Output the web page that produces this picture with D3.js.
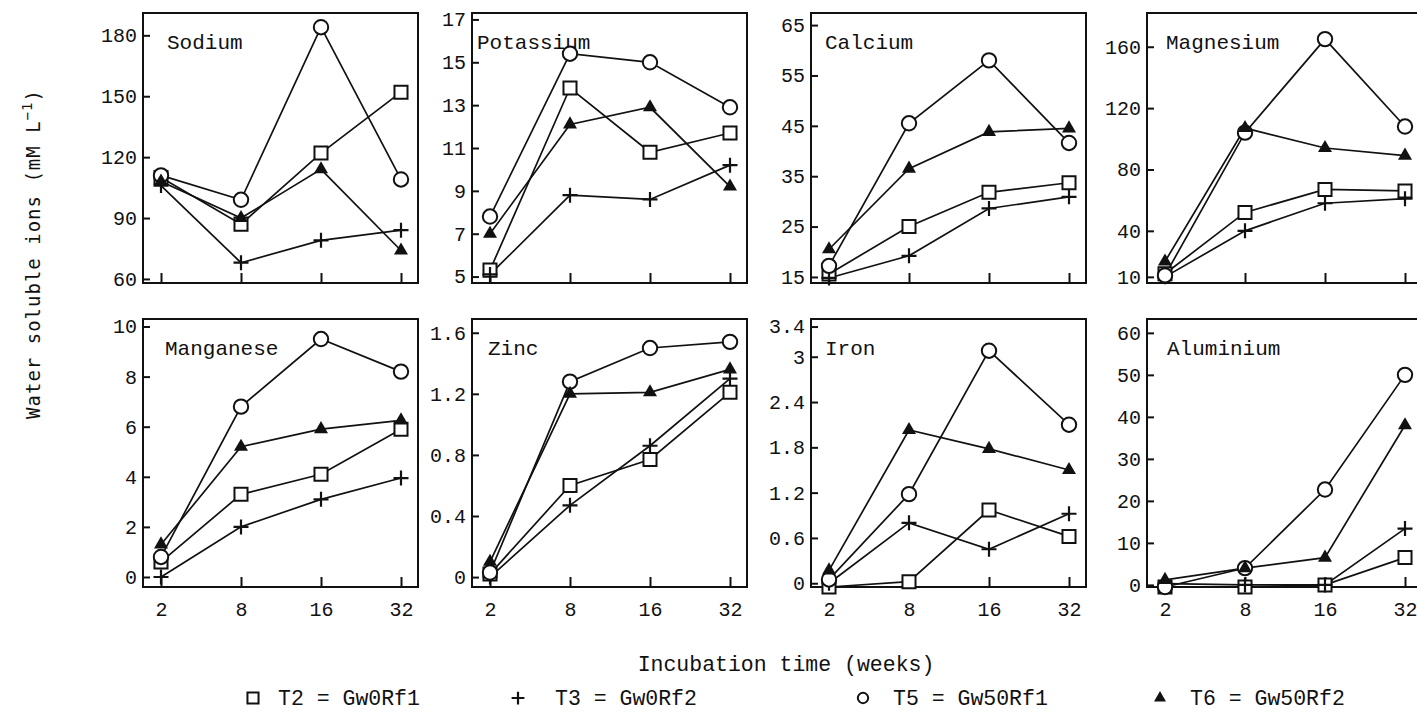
<!DOCTYPE html>
<html lang="en">
<head>
<meta charset="utf-8">
<script src="https://d3js.org/d3.v7.min.js"></script>
<style>
  body { margin: 0; background: #fff; overflow: hidden; }
  svg { display: block; }
  .frame { fill: none; stroke: #111; stroke-width: 2; }
  .axis text { font-family: "Liberation Mono", "DejaVu Sans Mono", monospace; font-size: 20px; fill: #111; }
  .axis line { stroke: #111; stroke-width: 2; }
  .axis path { display: none; }
  .title { font-family: "Liberation Mono", "DejaVu Sans Mono", monospace; font-size: 21px; fill: #111; }
  .series { fill: none; stroke: #111; stroke-width: 1.7; }
  .legend { font-family: "Liberation Mono", "DejaVu Sans Mono", monospace; font-size: 21.5px; fill: #111; }
  .ylab { font-family: "DejaVu Sans Mono", monospace; font-size: 19px; fill: #111; }
</style>
</head>
<body>
<svg id="chart" width="1417" height="714"></svg>
<script>
// x categories (incubation weeks)
const weeks = ["2", "8", "16", "32"];
const elements = ["Sodium", "Potassium", "Calcium", "Magnesium", "Manganese", "Zinc", "Iron", "Aluminium"];
const treatments = ["T2 = Gw0Rf1", "T3 = Gw0Rf2", "T5 = Gw50Rf1", "T6 = Gw50Rf2"];
const symbols = ["square", "plus", "circle", "triangle"];

// values per element, series order T2, T3, T5, T6
const sodium    = [[110, 87, 122, 152], [106, 68, 79, 84], [111, 99, 184, 109], [108, 90, 114, 74]];
const potassium = [[5.3, 13.8, 10.8, 11.7], [5.1, 8.8, 8.6, 10.2], [7.8, 15.4, 15.0, 12.9], [7.0, 12.1, 12.9, 9.2]];
const calcium   = [[15.6, 25, 31.8, 33.7], [14.8, 19.2, 28.6, 30.9], [17.2, 45.5, 58, 41.6], [20.5, 36.5, 43.8, 44.5]];
const magnesium = [[12, 52, 67, 66], [10, 40, 58, 61], [11, 104, 165, 108], [20, 107, 94, 89]];
const manganese = [[0.6, 3.3, 4.1, 5.9], [0.0, 2.0, 3.1, 3.95], [0.8, 6.8, 9.5, 8.2], [1.3, 5.2, 5.9, 6.25]];
const zinc      = [[0.02, 0.6, 0.77, 1.21], [0.0, 0.47, 0.86, 1.3], [0.03, 1.28, 1.5, 1.54], [0.1, 1.2, 1.21, 1.36]];
const iron      = [[-0.05, 0.02, 0.97, 0.62], [0.0, 0.8, 0.45, 0.92], [0.05, 1.18, 3.08, 2.1], [0.17, 2.03, 1.78, 1.5]];
const aluminium = [[-0.5, -0.5, 0, 6.5], [0.3, 0, 0, 13.4], [-0.5, 4, 22.7, 50], [1.2, 4, 6.5, 38]];
const values = [sodium, potassium, calcium, magnesium, manganese, zinc, iron, aluminium];

// y tick labels and axis ranges
const yTicks = [
  [60, 90, 120, 150, 180],
  [5, 7, 9, 11, 13, 15, 17],
  [15, 25, 35, 45, 55, 65],
  [10, 40, 80, 120, 160],
  [0, 2, 4, 6, 8, 10],
  [0, 0.4, 0.8, 1.2, 1.6],
  [0, 0.6, 1.2, 1.8, 2.4, 3, 3.4],
  [0, 10, 20, 30, 40, 50, 60]
];
const yDomains = [[58, 191], [4.7, 17.3], [13.8, 67.4], [6, 182], [-0.4, 10.3], [-0.065, 1.69], [-0.05, 3.5], [-0.5, 63.3]];

// layout
const lefts = [143, 472, 811, 1147];
const tops = [13, 319];
const heights = [270, 268];
const pw = 275;
const titleDx = [24, 5, 14, 19, 22, 16, 14, 20];
const legMarkX = [253, 518, 863, 1160];
const legTextX = [278, 555, 893, 1190];

const svg = d3.select("#chart");

function marker(g, type, x, y, scale) {
  const s = scale || 1;
  if (type === "circle") {
    g.append("circle").attr("cx", x).attr("cy", y).attr("r", 7.2 * s)
      .attr("fill", "#fff").attr("stroke", "#111").attr("stroke-width", 2);
  } else if (type === "square") {
    g.append("path").attr("transform", "translate(" + x + "," + y + ")")
      .attr("d", d3.symbol(d3.symbolSquare, 170 * s * s)())
      .attr("fill", "#fff").attr("stroke", "#111").attr("stroke-width", 2);
  } else if (type === "triangle") {
    g.append("path").attr("transform", "translate(" + x + "," + y + ")")
      .attr("d", d3.symbol(d3.symbolTriangle, 85 * s * s)())
      .attr("fill", "#111");
  } else {
    const a = 7.5 * s;
    g.append("path").attr("transform", "translate(" + x + "," + y + ")")
      .attr("d", "M" + (-a) + ",0H" + a + "M0," + (-a) + "V" + a)
      .attr("fill", "none").attr("stroke", "#111").attr("stroke-width", 2.2);
  }
}

elements.forEach(function(name, i) {
  const row = Math.floor(i / 4), col = i % 4;
  const left = lefts[col], top = tops[row], h = heights[row];
  const g = svg.append("g").attr("transform", "translate(" + left + "," + top + ")");

  const x = d3.scalePoint().domain(weeks).range([18, pw - 17]);
  const y = d3.scaleLinear().domain(yDomains[i]).range([h, 0]);

  g.append("rect").attr("class", "frame").attr("width", pw).attr("height", h);

  g.append("g").attr("class", "axis")
    .call(d3.axisLeft(y).tickValues(yTicks[i]).tickSize(-7).tickPadding(6)
      .tickFormat(function(d) { return String(d); }));

  const xa = d3.axisBottom(x).tickSize(-10).tickPadding(15);
  if (row === 0) xa.tickFormat("");
  g.append("g").attr("class", "axis").attr("transform", "translate(0," + h + ")").call(xa);

  g.append("text").attr("class", "title").attr("x", titleDx[i]).attr("y", 36).text(name);

  const line = d3.line().x(function(d, j) { return x(weeks[j]); }).y(function(d) { return y(d); });
  values[i].forEach(function(s) {
    g.append("path").attr("class", "series").attr("d", line(s));
  });
  values[i].forEach(function(s, k) {
    s.forEach(function(v, j) { marker(g, symbols[k], x(weeks[j]), y(v)); });
  });
});

// y axis label
svg.append("text").attr("class", "ylab")
  .attr("transform", "translate(40,254) rotate(-90)")
  .attr("text-anchor", "middle")
  .attr("letter-spacing", 1)
  .text("Water soluble ions (mM L")
  .append("tspan").attr("dy", -8).style("font-size", "14px").text("\u22121")
  .select(function() { return this.parentNode; })
  .append("tspan").attr("dy", 8).text(")");

// x axis label
svg.append("text").attr("class", "legend")
  .attr("x", 786).attr("y", 671).attr("text-anchor", "middle")
  .text("Incubation time (weeks)");

// legend
treatments.forEach(function(t, k) {
  const g = svg.append("g");
  marker(g, symbols[k], legMarkX[k], 698, k === 2 ? 0.72 : 0.85);
  g.append("text").attr("class", "legend").attr("x", legTextX[k]).attr("y", 705).text(t);
});
</script>
</body>
</html>
